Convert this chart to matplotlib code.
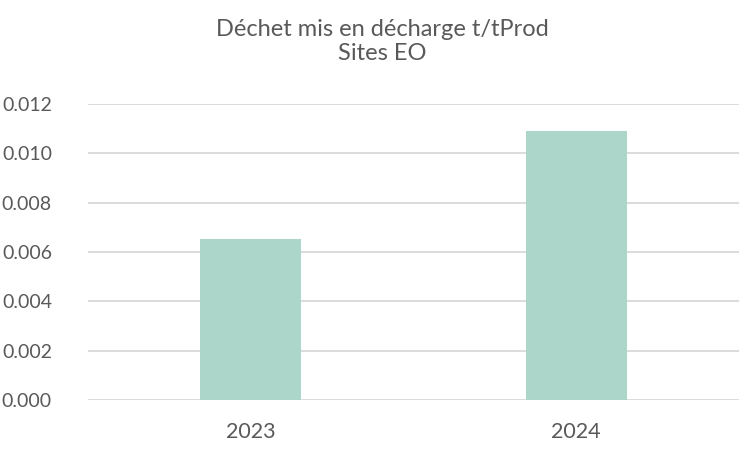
import matplotlib.pyplot as plt
from matplotlib.ticker import FormatStrFormatter

years = ["2023", "2024"]
values = [0.00653, 0.01091]

txt = "#595959"
plt.rcParams['font.family'] = ['Lato', 'DejaVu Sans']

fig = plt.figure(figsize=(7.39, 4.5), dpi=100)
ax = fig.add_axes([88 / 739, 1 - 400 / 450, 1 - 88 / 739, (400 - 104) / 450])

x = range(len(years))
ax.bar(x, values, width=0.31, color="#add6ca", zorder=3)

ax.set_xlim(-0.5, len(years) - 0.5)
ax.set_ylim(0, 0.012)
ax.set_yticks([i * 0.002 for i in range(7)])
ax.yaxis.set_major_formatter(FormatStrFormatter('%.3f'))
ax.set_xticks(list(x))
ax.set_xticklabels(years)

ax.grid(axis='y', color="#d9d9d9", linewidth=1.3, zorder=0)
for s in ax.spines.values():
    s.set_visible(False)
ax.tick_params(axis='both', length=0, labelcolor=txt)
ax.tick_params(axis='y', pad=26, labelsize=14)
ax.tick_params(axis='x', pad=16, labelsize=15.5)

fig.text(382 / 739, 1 - 41.5 / 450, "Déchet mis en décharge t/tProd\nSites EO",
         ha='center', va='center', fontsize=17, color=txt, linespacing=1.15)

fig.savefig("out.png", dpi=100)
